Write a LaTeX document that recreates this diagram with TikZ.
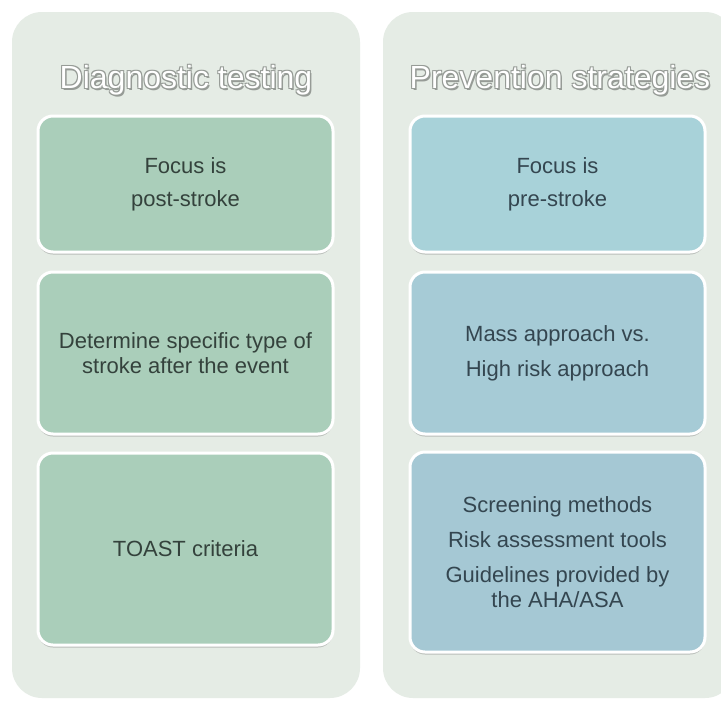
\documentclass[tikz,border=0pt]{standalone}
\usepackage{fontspec}
\setmainfont{Liberation Sans}
\usetikzlibrary{shadows}

\definecolor{panelgray}{RGB}{229,236,229}
\definecolor{diaggreen}{RGB}{170,206,186}
\definecolor{preva}{RGB}{168,210,217}
\definecolor{prevb}{RGB}{166,203,214}
\definecolor{prevc}{RGB}{165,200,212}
\definecolor{greentext}{RGB}{52,66,60}
\definecolor{bluetext}{RGB}{52,70,80}
\definecolor{headshade}{RGB}{150,155,150}

\begin{document}
\begin{tikzpicture}[
  x=1pt, y=-1pt,
  panel/.style={fill=panelgray, rounded corners=30pt, minimum width=348pt, minimum height=686pt, inner sep=0pt},
  head/.style={font=\fontsize{32}{36}\selectfont, inner sep=0pt},
  card/.style={draw=white, line width=3pt, rounded corners=15pt, align=center, minimum width=295pt, inner sep=0pt,
    font=\fontsize{22}{25}\selectfont, drop shadow={shadow xshift=0pt, shadow yshift=-2.5pt, opacity=0.35, fill=black!60}},
  diag/.style={card, fill=diaggreen, text=greentext},
  prev/.style={card, text=bluetext}
]
\useasboundingbox[fill=white] (0,0) rectangle (721,702);

% panels
\node[panel] (diagpanel) at (186,355) {};
\node[panel, minimum width=352pt] (prevpanel) at (559,355) {};

% headings, white on a gray halo
\foreach \dx/\dy [count=\k] in {-1/-1,1/-1,-1/1,1.5/2}{
  \node[head, text=headshade] (diagshade\k) at (186+\dx,80+\dy) {Diagnostic testing};
  \node[head, text=headshade] (prevshade\k) at (560+\dx,80+\dy) {Prevention strategies};
}
\node[head, text=white] (diaghead) at (186,80) {Diagnostic testing};
\node[head, text=white] (prevhead) at (560,80) {Prevention strategies};

% diagnostic testing
\node[diag, minimum height=136pt] (post) at (185.5,184) {Focus is\\[8pt]post-stroke};
\node[diag, minimum height=162pt] (type) at (185.5,353) {Determine specific type of\\stroke after the event};
\node[diag, minimum height=192pt] (toast) at (185.5,549) {TOAST criteria};

% prevention strategies
\node[prev, fill=preva, minimum height=136pt] (pre) at (557.5,184) {Focus is\\[8pt]pre-stroke};
\node[prev, fill=prevb, minimum height=162pt] (mass) at (557.5,353) {Mass approach vs.\\[10pt]High risk approach};
\node[prev, fill=prevc, minimum height=200pt] (screen) at (557.5,552)
  {Screening methods\\[10pt]Risk assessment tools\\[10pt]Guidelines provided by\\the AHA/ASA};

\end{tikzpicture}
\end{document}
